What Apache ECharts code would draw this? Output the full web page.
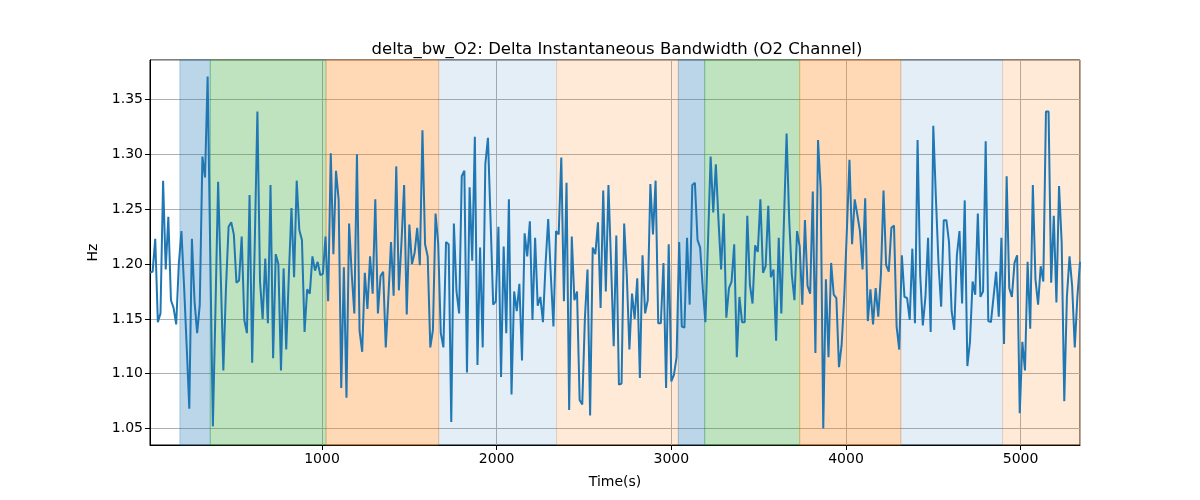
<!DOCTYPE html>
<html>
<head>
<meta charset="utf-8">
<script src="https://cdn.jsdelivr.net/npm/echarts@6/dist/echarts.min.js"></script>
<style>
html,body{margin:0;padding:0;background:#fff;}
#chart{width:1200px;height:500px;}
</style>
</head>
<body>
<div id="chart"></div>
<script>
// ---- data ----
const timeStart = 15;      // first sample time (s)
const timeStep = 15;       // sampling step (s)
const bandwidth = [
1.192,1.193,1.223,1.147,1.155,1.276,1.195,1.243,1.167,1.160,1.145,1.200,1.230,1.180,1.125,1.068,1.223,1.166,1.137,1.163,1.298,1.279,1.371,1.210,1.052,1.160,1.275,1.190,1.103,1.178,1.234,1.238,1.227,1.183,1.185,1.225,1.149,1.137,1.263,1.110,1.220,1.339,1.184,1.150,1.205,1.146,1.272,1.114,1.209,1.200,1.103,
1.196,1.122,1.190,1.251,1.188,1.276,1.231,1.222,1.138,1.177,1.173,1.207,1.194,1.202,1.190,1.191,1.225,1.166,1.301,1.209,1.285,1.259,1.087,1.197,1.078,1.237,1.191,1.155,1.300,1.139,1.120,1.192,1.159,1.207,1.173,1.259,1.155,1.189,1.193,1.124,1.170,1.220,1.171,1.289,1.176,1.220,1.272,1.154,1.236,1.200,
1.210,1.233,1.199,1.322,1.218,1.207,1.124,1.140,1.246,1.219,1.137,1.124,1.220,1.218,1.056,1.237,1.175,1.155,1.280,1.285,1.101,1.270,1.203,1.316,1.108,1.215,1.124,1.291,1.315,1.240,1.163,1.166,1.234,1.097,1.216,1.137,1.259,1.081,1.175,1.157,1.182,1.112,1.228,1.207,1.239,1.149,1.224,1.162,1.170,1.147,1.200,1.241,
1.190,1.143,1.230,1.227,1.297,1.166,1.274,1.067,1.225,1.167,1.175,1.076,1.072,1.150,1.195,1.062,1.215,1.209,1.238,1.160,1.267,1.175,1.272,1.200,1.125,1.226,1.090,1.091,1.237,1.190,1.122,1.173,1.150,1.187,1.096,1.208,1.155,1.167,1.273,1.227,1.276,1.146,1.146,1.201,1.087,1.218,1.093,1.099,1.115,1.220,1.143,
1.142,1.224,1.163,1.272,1.274,1.222,1.215,1.178,1.147,1.220,1.298,1.247,1.291,1.240,1.195,1.246,1.151,1.178,1.184,1.218,1.115,1.170,1.147,1.147,1.244,1.181,1.164,1.217,1.211,1.259,1.192,1.198,1.253,1.188,1.195,1.130,1.224,1.155,1.240,1.319,1.240,1.190,1.167,1.230,1.216,1.163,1.240,1.180,1.173,1.266,
1.119,1.313,1.269,1.050,1.186,1.115,1.201,1.172,1.169,1.106,1.126,1.170,1.230,1.295,1.218,1.259,1.245,1.230,1.195,1.260,1.148,1.177,1.145,1.178,1.152,1.190,1.267,1.199,1.193,1.233,1.235,1.143,1.122,1.208,1.170,1.169,1.149,1.214,1.146,1.313,1.190,1.144,1.170,1.224,1.138,1.326,1.260,1.200,1.161,1.240,1.240,
1.220,1.157,1.140,1.208,1.230,1.164,1.258,1.107,1.129,1.184,1.172,1.246,1.170,1.175,1.312,1.148,1.147,1.170,1.193,1.152,1.224,1.127,1.280,1.178,1.170,1.201,1.208,1.064,1.129,1.103,1.202,1.141,1.272,1.186,1.163,1.198,1.184,1.339,1.339,1.183,1.244,1.165,1.271,1.220,1.075,1.170,1.207,1.180,1.124,1.170,1.202
];
const bandStarts = [186, 360, 1023, 1668, 2343, 3040, 3191, 3735, 4314, 4897];
const bandEnds   = [360, 1023, 1668, 2343, 3040, 3191, 3735, 4314, 4897, 5340];
const bandKinds  = ['blue','green','orange','lightblue','lightorange','blue','green','orange','lightblue','lightorange'];

// ---- styles ----
const bandColors = {
  blue: 'rgba(31,119,180,0.3)',
  green: 'rgba(44,160,44,0.3)',
  orange: 'rgba(255,127,14,0.3)',
  lightblue: 'rgba(31,119,180,0.12)',
  lightorange: 'rgba(255,127,14,0.16)'
};

const times = bandwidth.map((_, i) => timeStart + i * timeStep);
const seriesData = bandwidth.map((v, i) => [times[i], v]);
const xMin = times[0], xMax = times[times.length - 1];

const areas = bandStarts.map((s, i) => [
  { xAxis: s, itemStyle: { color: bandColors[bandKinds[i]], borderColor: bandColors[bandKinds[i]], borderWidth: 1 } },
  { xAxis: bandEnds[i] }
]);

const font = 'DejaVu Sans';
const chart = echarts.init(document.getElementById('chart'), null, { renderer: 'canvas' });
chart.setOption({
  animation: false,
  backgroundColor: '#fff',
  title: {
    text: 'delta_bw_O2: Delta Instantaneous Bandwidth (O2 Channel)',
    left: 612, top: 36, textAlign: 'center',
    textStyle: { fontFamily: font, fontSize: 16.5, fontWeight: 'normal', color: '#000' }
  },
  grid: { left: 150, right: 120, top: 60, bottom: 55, show: true, borderColor: '#000', borderWidth: 1, backgroundColor: 'transparent' },
  xAxis: {
    type: 'value', min: xMin, max: xMax, splitNumber: 5,
    name: 'Time(s)', nameLocation: 'middle', nameGap: 30,
    nameTextStyle: { fontFamily: font, fontSize: 14, color: '#000' },
    axisLine: { show: true, lineStyle: { color: '#000', width: 1 } },
    axisTick: { show: true, length: 5, lineStyle: { color: '#000' } },
    axisLabel: { fontFamily: font, fontSize: 14, color: '#000', margin: 7, showMinLabel: false, showMaxLabel: false,
      formatter: v => String(Math.round(v)) },
    splitLine: { show: true, lineStyle: { color: '#b0b0b0', width: 1 } }
  },
  yAxis: {
    type: 'value', min: 1.035, max: 1.386, splitNumber: 7,
    name: 'Hz', nameLocation: 'middle', nameGap: 50, nameRotate: 90,
    nameTextStyle: { fontFamily: font, fontSize: 14, color: '#000' },
    axisLine: { show: true, lineStyle: { color: '#000', width: 1 } },
    axisTick: { show: true, length: 5, lineStyle: { color: '#000' } },
    axisLabel: { fontFamily: font, fontSize: 14, color: '#000', margin: 7, showMinLabel: false, showMaxLabel: false,
      formatter: v => v.toFixed(2) },
    splitLine: { show: true, lineStyle: { color: '#b0b0b0', width: 1 } }
  },
  series: [{
    type: 'line',
    data: seriesData,
    showSymbol: false,
    lineStyle: { color: '#1f77b4', width: 2 },
    itemStyle: { color: '#1f77b4' },
    z: 3,
    markArea: { silent: true, data: areas }
  }]
});
</script>
</body>
</html>
